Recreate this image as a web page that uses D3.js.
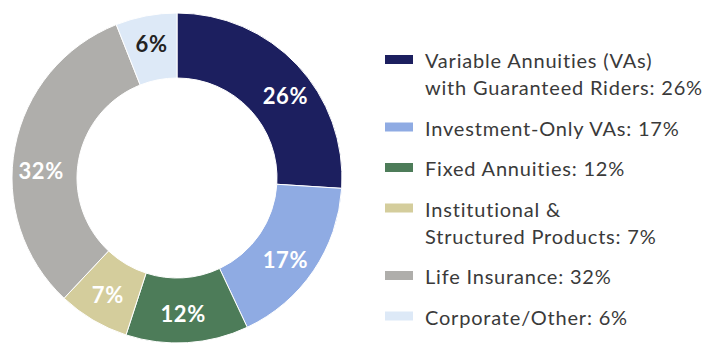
<!DOCTYPE html>
<html>
<head>
<meta charset="utf-8">
<script src="https://cdn.jsdelivr.net/npm/d3@7/dist/d3.min.js"></script>
<style>
  html, body { margin: 0; padding: 0; background: #fff; }
  svg { display: block; }
</style>
</head>
<body>
<svg id="chart" width="709" height="344"></svg>
<script>
// Segments, clockwise from 12 o'clock
const categories = [
  "Variable Annuities (VAs)\nwith Guaranteed Riders",
  "Investment-Only VAs",
  "Fixed Annuities",
  "Institutional &\nStructured Products",
  "Life Insurance",
  "Corporate/Other"
];
const shares = [26, 17, 12, 7, 32, 6];
const colors = ["#1c1f5f", "#8fabe3", "#4d7c59", "#d4cd9c", "#afaeab", "#dde9f7"];
const labelColors = ["#ffffff", "#ffffff", "#ffffff", "#ffffff", "#ffffff", "#222222"];
// small angular nudges (degrees) for the in-ring percentage labels
const labelNudge = [6, 3, 1, 0, -8, 0];

const svg = d3.select("#chart");
const cx = 177, cy = 178, outerR = 165, innerR = 100, labelR = 136;

const pie = d3.pie().sort(null).value(d => d.value);
const data = shares.map((v, i) => ({ name: categories[i], value: v, color: colors[i], lc: labelColors[i], nudge: labelNudge[i] }));
const arcs = pie(data);

const arc = d3.arc().innerRadius(innerR).outerRadius(outerR);

const g = svg.append("g").attr("transform", `translate(${cx},${cy})`);

g.selectAll("path.slice")
  .data(arcs)
  .join("path")
  .attr("class", "slice")
  .attr("d", arc)
  .attr("fill", d => d.data.color)
  .attr("stroke", "#ffffff")
  .attr("stroke-width", 1);

g.selectAll("text.pct")
  .data(arcs)
  .join("text")
  .attr("class", "pct")
  .attr("transform", d => {
    const a = (d.startAngle + d.endAngle) / 2 + d.data.nudge * Math.PI / 180;
    return `translate(${labelR * Math.sin(a)},${-labelR * Math.cos(a)})`;
  })
  .attr("text-anchor", "middle")
  .attr("dy", "0.36em")
  .attr("font-family", "Lato, 'DejaVu Sans', sans-serif")
  .attr("font-weight", "bold")
  .attr("font-size", 22)
  .attr("letter-spacing", 0.6)
  .attr("fill", d => d.data.lc)
  .text(d => d.data.value + "%");

// Legend
const legend = svg.append("g").attr("transform", "translate(385,0)");
const gap = 40.5, lineH = 27;
let y = 68;
data.forEach(d => {
  const lines = d.name.split("\n");
  lines[lines.length - 1] += ": " + d.value + "%";
  legend.append("rect")
    .attr("x", 0).attr("y", y - 13)
    .attr("width", 28).attr("height", 9)
    .attr("fill", d.color);
  const t = legend.append("text")
    .attr("x", 40).attr("y", y)
    .attr("font-family", "Lato, 'DejaVu Sans', sans-serif")
    .attr("font-size", 20)
    .attr("letter-spacing", 0.8)
    .attr("fill", "#3a3a3a");
  lines.forEach((ln, i) => {
    t.append("tspan").attr("x", 40).attr("y", y + i * lineH).text(ln);
  });
  y += (lines.length - 1) * lineH + gap;
});
</script>
</body>
</html>
